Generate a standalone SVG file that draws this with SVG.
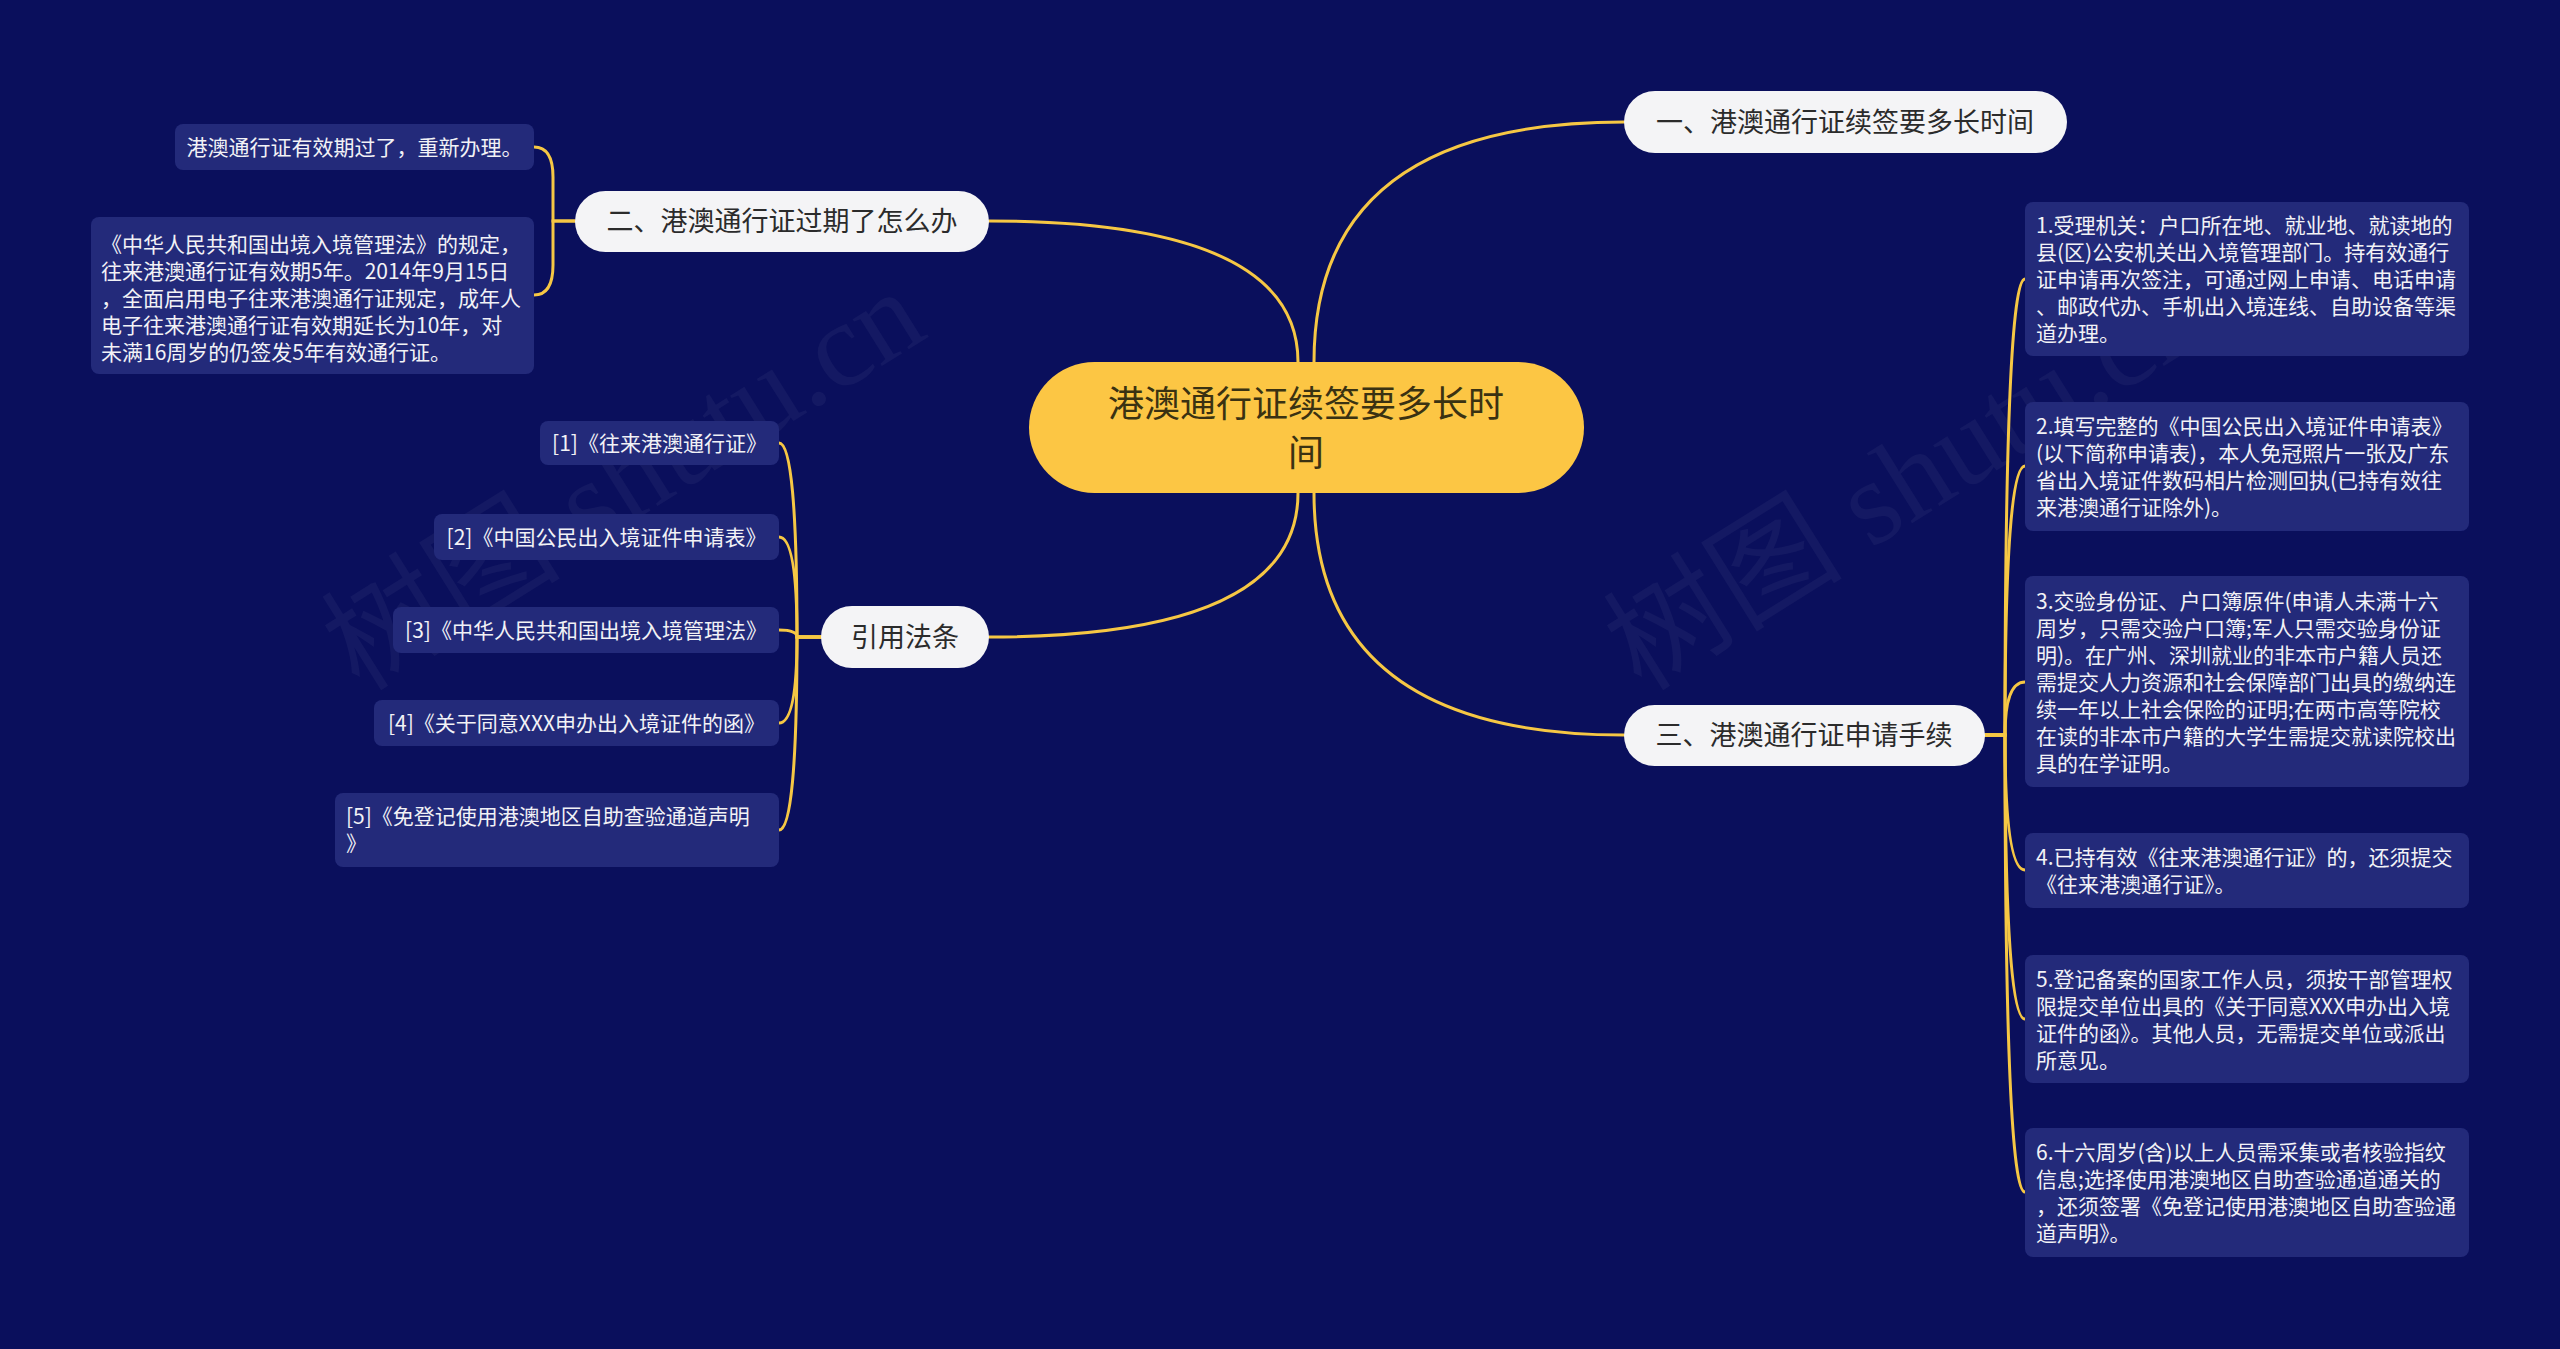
<svg xmlns="http://www.w3.org/2000/svg" width="2560" height="1349" viewBox="0 0 2560 1349">
<style>
.bg{fill:#0a0f5c}
.wm{font-family:"Liberation Serif","Noto Sans CJK SC",serif;font-size:120px;fill:#ffffff;fill-opacity:0.045}
.link{fill:none;stroke:#f6c744;stroke-width:3;stroke-linecap:round}
.root rect{fill:#fcc644}
.root text{font-family:"Noto Sans CJK SC","Noto Sans",sans-serif;font-size:36px;fill:#3a3212;text-anchor:middle}
.topic rect{fill:#f4f4f6}
.topic text{font-family:"Noto Sans CJK SC","Noto Sans",sans-serif;font-size:27px;fill:#2b2b2b;text-anchor:middle}
.leaf rect{fill:#232a7a}
.leaf text{font-family:"Noto Sans CJK SC","Noto Sans",sans-serif;font-size:21px;fill:#f2f2f6}
.mid{text-anchor:middle}
</style>
<rect class="bg" x="0" y="0" width="2560" height="1349"/>
<g id="watermarks">
<text class="wm" x="645" y="514" text-anchor="middle" transform="rotate(-32 645 514)">树图 shutu.cn</text>
<text class="wm" x="1927" y="514" text-anchor="middle" transform="rotate(-32 1927 514)">树图 shutu.cn</text>
</g>
<g id="connectors">
<path class="link" d="M1314,362 Q1314,122 1624,122"/>
<path class="link" d="M1298,362 Q1298,221 989,221"/>
<path class="link" d="M1298,493 Q1298,637 989,637"/>
<path class="link" d="M1314,493 Q1314,735 1624,735"/>
<path class="link" d="M575,221 H553 V177 Q553,147 534,147"/>
<path class="link" d="M575,221 H553 V265 Q553,295 534,295"/>
<path class="link" d="M821,637 H797 Q797,443 779,443"/>
<path class="link" d="M821,637 H797 Q797,537 779,537"/>
<path class="link" d="M821,637 H797 Q797,630 779,630"/>
<path class="link" d="M821,637 H797 Q797,723 779,723"/>
<path class="link" d="M821,637 H797 Q797,830 779,830"/>
<path class="link" d="M1985,735 H2005 Q2005,279 2025,279"/>
<path class="link" d="M1985,735 H2005 Q2005,466 2025,466"/>
<path class="link" d="M1985,735 H2005 Q2005,682 2025,682"/>
<path class="link" d="M1985,735 H2005 Q2005,870 2025,870"/>
<path class="link" d="M1985,735 H2005 Q2005,1019 2025,1019"/>
<path class="link" d="M1985,735 H2005 Q2005,1192 2025,1192"/>
</g>
<g id="root" class="root">
<rect x="1029" y="362" width="555" height="131" rx="65.5"/>
<text x="1306" y="417">港澳通行证续签要多长时</text>
<text x="1306" y="466">间</text>
</g>
<g id="topic1" class="topic">
<rect x="1624" y="91" width="443" height="62" rx="31"/>
<text x="1845" y="132">一、港澳通行证续签要多长时间</text>
</g>
<g id="topic2" class="topic">
<rect x="575" y="191" width="414" height="61" rx="30.5"/>
<text x="782" y="231">二、港澳通行证过期了怎么办</text>
</g>
<g id="topic3" class="topic">
<rect x="1624" y="705" width="361" height="61" rx="30.5"/>
<text x="1804" y="745">三、港澳通行证申请手续</text>
</g>
<g id="topic4" class="topic">
<rect x="821" y="606" width="168" height="62" rx="31"/>
<text x="905" y="647">引用法条</text>
</g>
<g id="leaf2-1" class="leaf">
<rect x="175" y="124" width="359" height="46" rx="8"/>
<text class="mid" x="354.5" y="155">港澳通行证有效期过了，重新办理。</text>
</g>
<g id="leaf2-2" class="leaf">
<rect x="91" y="217" width="443" height="157" rx="8"/>
<text x="101" y="252">《中华人民共和国出境入境管理法》的规定，</text>
<text x="101" y="279">往来港澳通行证有效期5年。2014年9月15日</text>
<text x="101" y="306">，全面启用电子往来港澳通行证规定，成年人</text>
<text x="101" y="333">电子往来港澳通行证有效期延长为10年，对</text>
<text x="101" y="360">未满16周岁的仍签发5年有效通行证。</text>
</g>
<g id="ref1" class="leaf">
<rect x="540" y="421" width="239" height="44" rx="8"/>
<text class="mid" x="659.5" y="451">[1]《往来港澳通行证》</text>
</g>
<g id="ref2" class="leaf">
<rect x="434" y="514" width="345" height="46" rx="8"/>
<text class="mid" x="606.5" y="545">[2]《中国公民出入境证件申请表》</text>
</g>
<g id="ref3" class="leaf">
<rect x="393" y="607" width="386" height="46" rx="8"/>
<text class="mid" x="586" y="638">[3]《中华人民共和国出境入境管理法》</text>
</g>
<g id="ref4" class="leaf">
<rect x="374" y="700" width="405" height="46" rx="8"/>
<text class="mid" x="576.5" y="731">[4]《关于同意XXX申办出入境证件的函》</text>
</g>
<g id="ref5" class="leaf">
<rect x="335" y="793" width="444" height="74" rx="8"/>
<text x="346" y="824">[5]《免登记使用港澳地区自助查验通道声明</text>
<text x="346" y="851">》</text>
</g>
<g id="step1" class="leaf">
<rect x="2025" y="202" width="444" height="154" rx="8"/>
<text x="2036" y="233">1.受理机关：户口所在地、就业地、就读地的</text>
<text x="2036" y="260">县(区)公安机关出入境管理部门。持有效通行</text>
<text x="2036" y="287">证申请再次签注，可通过网上申请、电话申请</text>
<text x="2036" y="314">、邮政代办、手机出入境连线、自助设备等渠</text>
<text x="2036" y="341">道办理。</text>
</g>
<g id="step2" class="leaf">
<rect x="2025" y="402" width="444" height="129" rx="8"/>
<text x="2036" y="434">2.填写完整的《中国公民出入境证件申请表》</text>
<text x="2036" y="461">(以下简称申请表)，本人免冠照片一张及广东</text>
<text x="2036" y="488">省出入境证件数码相片检测回执(已持有效往</text>
<text x="2036" y="515">来港澳通行证除外)。</text>
</g>
<g id="step3" class="leaf">
<rect x="2025" y="576" width="444" height="211" rx="8"/>
<text x="2036" y="609">3.交验身份证、户口簿原件(申请人未满十六</text>
<text x="2036" y="636">周岁，只需交验户口簿;军人只需交验身份证</text>
<text x="2036" y="663">明)。在广州、深圳就业的非本市户籍人员还</text>
<text x="2036" y="690">需提交人力资源和社会保障部门出具的缴纳连</text>
<text x="2036" y="717">续一年以上社会保险的证明;在两市高等院校</text>
<text x="2036" y="744">在读的非本市户籍的大学生需提交就读院校出</text>
<text x="2036" y="771">具的在学证明。</text>
</g>
<g id="step4" class="leaf">
<rect x="2025" y="833" width="444" height="75" rx="8"/>
<text x="2036" y="865">4.已持有效《往来港澳通行证》的，还须提交</text>
<text x="2036" y="892">《往来港澳通行证》。</text>
</g>
<g id="step5" class="leaf">
<rect x="2025" y="955" width="444" height="128" rx="8"/>
<text x="2036" y="987">5.登记备案的国家工作人员，须按干部管理权</text>
<text x="2036" y="1014">限提交单位出具的《关于同意XXX申办出入境</text>
<text x="2036" y="1041">证件的函》。其他人员，无需提交单位或派出</text>
<text x="2036" y="1068">所意见。</text>
</g>
<g id="step6" class="leaf">
<rect x="2025" y="1128" width="444" height="129" rx="8"/>
<text x="2036" y="1160">6.十六周岁(含)以上人员需采集或者核验指纹</text>
<text x="2036" y="1187">信息;选择使用港澳地区自助查验通道通关的</text>
<text x="2036" y="1214">，还须签署《免登记使用港澳地区自助查验通</text>
<text x="2036" y="1241">道声明》。</text>
</g>
</svg>
